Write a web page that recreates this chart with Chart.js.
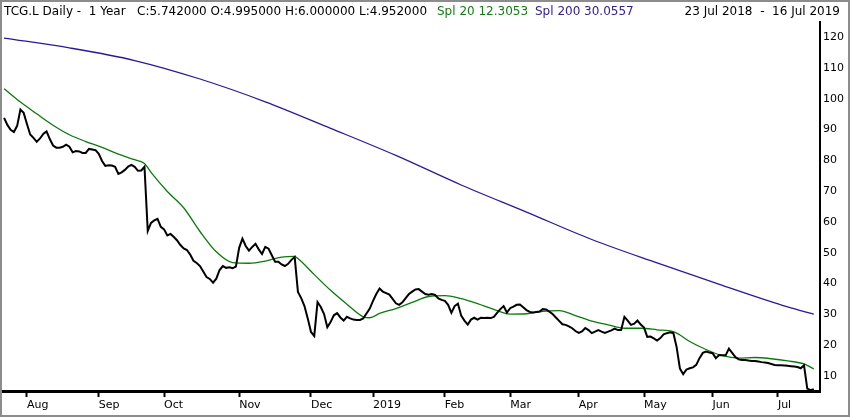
<!DOCTYPE html>
<html><head><meta charset="utf-8">
<script src="https://cdn.jsdelivr.net/npm/chart.js@4.4.1/dist/chart.umd.min.js"></script>
<style>html,body{margin:0;padding:0;background:#fff;overflow:hidden}#wrap{width:850px;height:417px;position:relative}</style>
</head><body><div id="wrap"><canvas id="c" width="850" height="417"></canvas></div>
<script>
// Daily closes, one per trading day from 23 Jul 2018 (index 0) to 16 Jul 2019 (index 248)
const closeValues = [
93.8,91.5,89.9,89.2,91.2,96.5,95.4,91.8,88.4,87.3,
86.0,87.1,88.6,89.4,86.9,84.8,84.1,84.1,84.4,85.1,
84.4,82.6,83.0,82.9,82.4,82.4,83.7,83.5,83.3,82.1,
79.8,78.2,78.4,78.3,77.9,75.6,76.1,76.9,78.0,78.5,
77.9,76.6,76.7,77.9,57.1,59.7,60.5,61.0,58.4,57.6,
55.6,56.1,55.1,54.0,52.5,51.4,50.9,49.4,47.4,46.7,
45.7,43.9,42.1,41.5,40.3,41.6,44.4,45.7,45.1,45.3,
45.0,45.5,51.6,54.6,52.2,50.7,51.9,52.9,51.1,49.6,
51.9,51.3,49.2,47.1,47.1,46.2,45.7,46.4,47.7,48.6,
37.3,35.3,32.7,28.7,24.3,23.0,34.0,32.4,30.1,25.8,
27.5,29.7,30.4,29.0,28.0,29.2,28.7,28.3,28.2,28.2,
28.7,30.3,31.9,34.4,36.6,38.4,37.4,36.9,36.4,35.0,
33.6,33.1,33.9,35.3,36.6,37.4,38.1,38.2,37.4,36.6,
36.4,36.6,36.3,35.2,34.7,34.4,33.1,30.5,32.7,33.5,
29.6,28.0,26.7,28.3,28.9,28.3,28.9,28.8,28.9,28.8,
29.2,30.5,31.7,32.7,30.6,32.0,32.5,33.1,33.2,32.3,
31.4,30.8,30.6,30.8,30.9,31.7,31.6,30.9,30.1,29.0,
27.9,26.8,26.6,26.1,25.5,24.6,24.0,24.5,25.6,24.9,
23.9,24.4,24.9,24.4,24.0,24.4,24.8,25.4,24.9,24.9,
29.2,28.0,26.6,27.0,28.0,26.7,25.7,22.7,22.8,22.2,
21.5,22.3,23.5,23.9,24.2,23.9,19.3,12.4,10.6,12.1,
12.5,12.8,13.6,15.8,17.5,17.9,17.6,17.4,15.8,16.8,
16.7,16.7,18.9,17.5,16.1,15.4,15.2,15.2,15.0,14.9,
14.9,14.7,14.5,14.4,14.2,13.9,13.6,13.5,13.5,13.4,
13.3,13.2,13.1,12.9,12.5,13.5,5.9,5.4,5.742
];
// Spl 20 (green) read at these trading-day indices
const spl20Days = [0,5,10,15,20,25,30,35,40,43,45,50,55,60,65,70,75,80,85,89,90,95,100,105,110,112,115,120,125,130,135,140,145,150,155,160,165,170,175,180,185,190,195,200,205,207,210,215,220,225,230,235,240,245,248];
const spl20Values = [103.2,98.9,95.1,91.4,88.3,86.1,84.2,82.0,80.2,79.0,76.1,69.9,64.6,56.9,50.3,46.8,46.6,47.3,48.6,48.8,48.1,42.9,37.8,33.3,29.2,28.9,30.3,31.9,33.9,35.8,36.1,35.1,33.5,31.6,30.1,30.2,31.0,31.2,29.6,27.8,26.6,25.5,25.5,25.0,24.4,23.3,21.2,18.6,16.6,15.8,16.0,15.6,14.9,13.9,12.3053];
// Spl 200 (blue)
const spl200Days = [0,20,40,60,80,100,120,140,160,180,200,220,240,248];
const spl200Values = [119.7,116.5,112.4,106.4,99.0,90.4,81.6,72.0,63.2,54.3,46.7,39.4,32.4,30.0557];
// Month ticks (trading-day index of first trading day of month)
const monthStartDays = [7,29,49,72,94,113,135,155,176,196,217,237];
const monthLabels = ['Aug','Sep','Oct','Nov','Dec','2019','Feb','Mar','Apr','May','Jun','Jul'];
const yTickValues = [10,20,30,40,50,60,70,80,90,100,110,120];
const headerMain = 'TCG.L Daily -  1 Year   C:5.742000 O:4.995000 H:6.000000 L:4.952000';
const headerSpl20 = 'Spl 20 12.3053';
const headerSpl200 = 'Spl 200 30.0557';
const headerRange = '23 Jul 2018  -  16 Jul 2019';

const FONT = "'DejaVu Sans', sans-serif";
const toPts = (xs, ys) => xs.map((x, k) => ({x: x, y: ys[k]}));

const framePlugin = {
  id: 'frame',
  beforeDraw(chart) {
    const c = chart.ctx;
    c.save(); c.fillStyle = '#fff'; c.fillRect(0, 0, chart.width, chart.height); c.restore();
  },
  afterDraw(chart) {
    const c = chart.ctx;
    c.save();
    c.strokeStyle = '#8c8c8c'; c.lineWidth = 2;
    c.strokeRect(1, 1, chart.width - 2, chart.height - 2);
    c.font = '12px ' + FONT;
    c.textBaseline = 'alphabetic';
    c.textAlign = 'left';
    c.fillStyle = '#000';
    c.fillText(headerMain, 4, 15);
    c.fillStyle = '#167a16';
    c.fillText(headerSpl20, 437, 15);
    c.fillStyle = '#33228c';
    c.fillText(headerSpl200, 535, 15);
    c.fillStyle = '#000';
    c.textAlign = 'right';
    c.fillText(headerRange, 840, 15);
    c.restore();
  }
};

new Chart(document.getElementById('c'), {
  type: 'line',
  data: {
    datasets: [
      {label: 'Close', data: toPts(closeValues.map((v, i) => i), closeValues), borderColor: '#000', borderWidth: 2, pointRadius: 0, tension: 0},
      {label: 'Spl 20', data: toPts(spl20Days, spl20Values), borderColor: '#0b7a0b', borderWidth: 1.3, pointRadius: 0, cubicInterpolationMode: 'monotone'},
      {label: 'Spl 200', data: toPts(spl200Days, spl200Values), borderColor: '#2a1a96', borderWidth: 1.3, pointRadius: 0, cubicInterpolationMode: 'monotone'}
    ]
  },
  options: {
    responsive: false, animation: false, devicePixelRatio: 1,
    layout: {padding: {left: 2, top: 22, right: 0, bottom: 0}},
    plugins: {legend: {display: false}, tooltip: {enabled: false}, title: {display: false}},
    scales: {
      x: {
        type: 'linear', position: 'bottom', min: -0.64, max: 249.9,
        afterBuildTicks: s => { s.ticks = monthStartDays.map(v => ({value: v})); },
        afterFit: s => { s.height = 26; },
        grid: {display: true, drawOnChartArea: false, drawTicks: true, tickLength: 6, tickWidth: 2, tickColor: '#000'},
        border: {display: true, color: '#000', width: 3},
        ticks: {autoSkip: false, maxRotation: 0, minRotation: 0, align: 'start', padding: 2, color: '#000',
          font: {family: FONT, size: 11}, callback: (v, i) => monthLabels[i]}
      },
      y: {
        type: 'linear', position: 'right', min: 5.13, max: 124.9,
        afterBuildTicks: s => { s.ticks = yTickValues.map(v => ({value: v})); },
        afterFit: s => { s.width = 30; },
        grid: {display: false, drawTicks: false},
        border: {display: true, color: '#000', width: 2},
        ticks: {padding: 3, color: '#000', font: {family: FONT, size: 11}, callback: v => String(v)}
      }
    }
  },
  plugins: [framePlugin]
});
</script>
</body></html>
